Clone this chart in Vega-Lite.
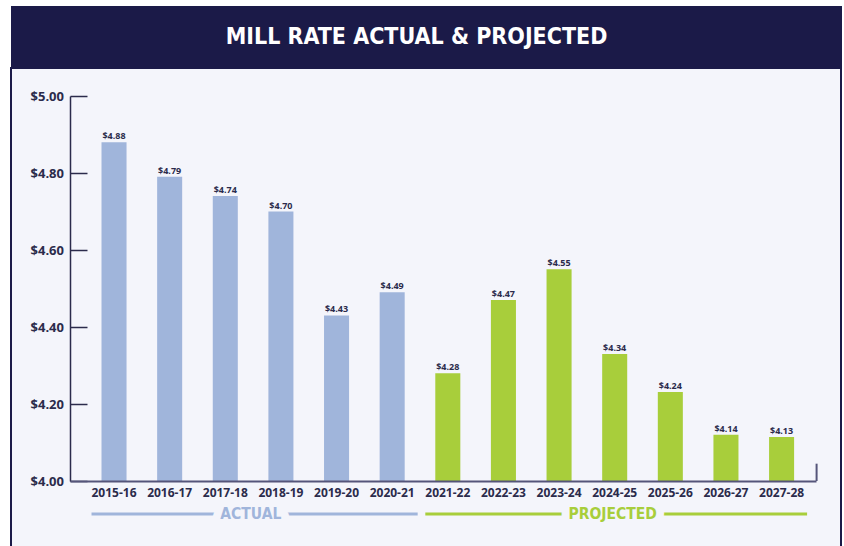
{
  "$schema": "https://vega.github.io/schema/vega-lite/v6.json",
  "padding": {"left": 10, "top": 6, "right": 0, "bottom": 0},
  "background": "white",
  "spacing": 0,
  "config": {"view": {"stroke": null}, "concat": {"spacing": 0}},
  "datasets": {
    "rates": [
      {"year": "2015-16", "grp": "ACTUAL", "rate": 4.88, "drawn": 4.88},
      {"year": "2016-17", "grp": "ACTUAL", "rate": 4.79, "drawn": 4.79},
      {"year": "2017-18", "grp": "ACTUAL", "rate": 4.74, "drawn": 4.74},
      {"year": "2018-19", "grp": "ACTUAL", "rate": 4.70, "drawn": 4.70},
      {"year": "2019-20", "grp": "ACTUAL", "rate": 4.43, "drawn": 4.43},
      {"year": "2020-21", "grp": "ACTUAL", "rate": 4.49, "drawn": 4.49},
      {"year": "2021-22", "grp": "PROJECTED", "rate": 4.28, "drawn": 4.28},
      {"year": "2022-23", "grp": "PROJECTED", "rate": 4.47, "drawn": 4.47},
      {"year": "2023-24", "grp": "PROJECTED", "rate": 4.55, "drawn": 4.55},
      {"year": "2024-25", "grp": "PROJECTED", "rate": 4.34, "drawn": 4.33},
      {"year": "2025-26", "grp": "PROJECTED", "rate": 4.24, "drawn": 4.231},
      {"year": "2026-27", "grp": "PROJECTED", "rate": 4.14, "drawn": 4.12},
      {"year": "2027-28", "grp": "PROJECTED", "rate": 4.13, "drawn": 4.114}
    ],
    "groups": [
      {"grp": "ACTUAL", "first": "2015-16", "last": "2020-21", "mid": "2017-18"},
      {"grp": "PROJECTED", "first": "2021-22", "last": "2027-28", "mid": "2024-25"}
    ],
    "heading": [{"text": "MILL RATE ACTUAL & PROJECTED"}]
  },
  "vconcat": [
    {
      "width": 831,
      "height": 61,
      "view": {"fill": "#1b1a48", "stroke": null},
      "data": {"name": "heading"},
      "mark": {
        "type": "text",
        "font": "Liberation Sans Narrow, DejaVu Sans Condensed, sans-serif",
        "fontSize": 23,
        "fontWeight": "bold",
        "color": "white",
        "align": "center",
        "baseline": "middle",
        "dx": -10
      },
      "encoding": {"text": {"field": "text"}}
    },
    {
      "width": 830,
      "height": 485,
      "view": {"fill": "#f4f5fb", "stroke": "#1b1a48", "strokeWidth": 2},
      "resolve": {"scale": {"x": "shared", "y": "shared", "color": "shared"}},
      "layer": [
        {
          "data": {"name": "rates"},
          "mark": {"type": "bar"},
          "encoding": {
            "x": {
              "field": "year",
              "type": "nominal",
              "sort": null,
              "scale": {"type": "band", "range": [59, 805], "paddingInner": 0.55, "paddingOuter": 0.48, "align": 0.59},
              "axis": {
                "title": null,
                "labelAngle": 0,
                "offset": -72,
                "ticks": false,
                "tickSize": 0,
                "domainColor": "#55557a",
                "domainWidth": 2,
                "labelFont": "Open Sans",
                "labelFontSize": 12,
                "labelFontWeight": "bold",
                "labelColor": "#2b2b4b",
                "labelPadding": 6,
                "zindex": 1
              }
            },
            "y": {
              "field": "drawn",
              "type": "quantitative",
              "scale": {"domain": [4, 5], "range": [413, 28], "zero": false, "nice": false},
              "axis": {
                "title": null,
                "values": [4, 4.2, 4.4, 4.6, 4.8, 5],
                "format": "$.2f",
                "offset": -59,
                "grid": false,
                "tickSize": -17,
                "tickWidth": 1.5,
                "tickColor": "#2b2b4b",
                "domainColor": "#2b2b4b",
                "domainWidth": 1.5,
                "labelPadding": 23.5,
                "labelFont": "Open Sans",
                "labelFontSize": 13,
                "labelFontWeight": "bold",
                "labelColor": "#2b2b4b"
              }
            },
            "y2": {"datum": 4},
            "color": {
              "field": "grp",
              "type": "nominal",
              "scale": {"domain": ["ACTUAL", "PROJECTED"], "range": ["#a0b5db", "#a8ce3b"]},
              "legend": null
            }
          }
        },
        {
          "data": {"name": "rates"},
          "mark": {"type": "text", "baseline": "alphabetic", "dy": -3, "font": "Open Sans", "fontSize": 9, "fontWeight": "bold", "color": "#2b2b4b"},
          "encoding": {
            "x": {"field": "year", "type": "nominal", "sort": null},
            "y": {"field": "drawn", "type": "quantitative"},
            "text": {"field": "rate", "type": "quantitative", "format": "$.2f"}
          }
        },
        {
          "data": {"values": [{}]},
          "mark": {"type": "rule", "xOffset": 35, "color": "#55557a", "strokeWidth": 2},
          "encoding": {
            "x": {"datum": "2027-28", "type": "nominal"},
            "y": {"datum": 4, "type": "quantitative"},
            "y2": {"datum": 4.045}
          }
        },
        {
          "data": {"name": "groups"},
          "mark": {"type": "rule", "strokeWidth": 3, "xOffset": -22.5, "x2Offset": 25.5},
          "encoding": {
            "x": {"field": "first", "type": "nominal"},
            "x2": {"field": "last"},
            "y": {"datum": 3.914, "type": "quantitative"},
            "color": {"field": "grp", "type": "nominal"}
          }
        },
        {
          "data": {"name": "groups"},
          "transform": [{"filter": "datum.grp === 'ACTUAL'"}],
          "layer": [
            {
              "mark": {"type": "text", "dx": 25.5, "font": "Liberation Sans Narrow, DejaVu Sans Condensed, sans-serif", "fontSize": 15.5, "fontWeight": "bold", "baseline": "middle", "fill": "#f4f5fb", "stroke": "#f4f5fb", "strokeWidth": 16, "strokeJoin": "round"},
              "encoding": {
                "x": {"field": "mid", "type": "nominal"},
                "y": {"datum": 3.914, "type": "quantitative"},
                "text": {"field": "grp"}
              }
            },
            {
              "mark": {"type": "text", "dx": 25.5, "font": "Liberation Sans Narrow, DejaVu Sans Condensed, sans-serif", "fontSize": 15.5, "fontWeight": "bold", "baseline": "middle"},
              "encoding": {
                "x": {"field": "mid", "type": "nominal"},
                "y": {"datum": 3.914, "type": "quantitative"},
                "text": {"field": "grp"},
                "color": {"field": "grp", "type": "nominal"}
              }
            }
          ]
        },
        {
          "data": {"name": "groups"},
          "transform": [{"filter": "datum.grp === 'PROJECTED'"}],
          "layer": [
            {
              "mark": {"type": "text", "dx": -2, "font": "Liberation Sans Narrow, DejaVu Sans Condensed, sans-serif", "fontSize": 15.5, "fontWeight": "bold", "baseline": "middle", "fill": "#f4f5fb", "stroke": "#f4f5fb", "strokeWidth": 16, "strokeJoin": "round"},
              "encoding": {
                "x": {"field": "mid", "type": "nominal"},
                "y": {"datum": 3.914, "type": "quantitative"},
                "text": {"field": "grp"}
              }
            },
            {
              "mark": {"type": "text", "dx": -2, "font": "Liberation Sans Narrow, DejaVu Sans Condensed, sans-serif", "fontSize": 15.5, "fontWeight": "bold", "baseline": "middle"},
              "encoding": {
                "x": {"field": "mid", "type": "nominal"},
                "y": {"datum": 3.914, "type": "quantitative"},
                "text": {"field": "grp"},
                "color": {"field": "grp", "type": "nominal"}
              }
            }
          ]
        }
      ]
    }
  ]
}
